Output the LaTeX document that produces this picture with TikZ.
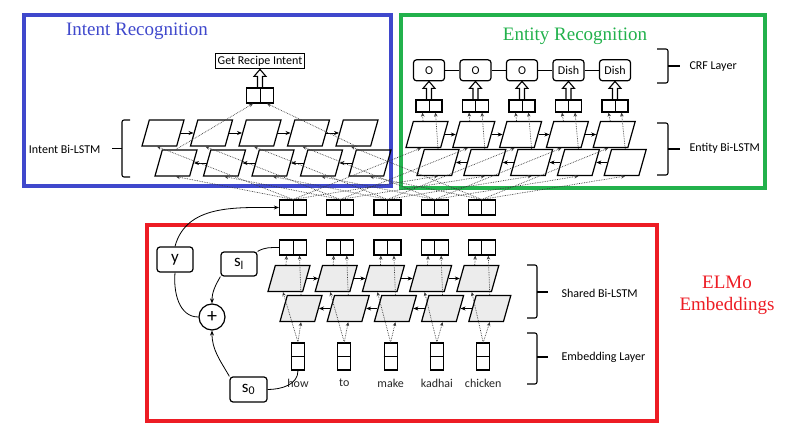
\documentclass[tikz,border=0pt]{standalone}
\usepackage{fontspec}
\setmainfont{Carlito}
\newfontfamily\titlefont{Liberation Serif}
\usepackage{tikz}
\usetikzlibrary{positioning,calc,shapes.geometric,arrows.meta}

\definecolor{intentblue}{RGB}{63,72,204}
\definecolor{entitygreen}{RGB}{34,177,76}
\definecolor{elmored}{RGB}{237,28,36}

% hollow arrow drawn from the top of one node to the bottom of another
\newcommand{\hollowup}[2]{%
  \draw[line width=1.1pt, line join=miter] let \p1=(#1.north), \p2=(#2.south) in
    (\x1-2.5pt,\y1) -- (\x1-2.5pt,\y2-7pt) -- (\x1-6pt,\y2-7pt) -- (\x1,\y2)
    -- (\x1+6pt,\y2-7pt) -- (\x1+2.5pt,\y2-7pt) -- (\x1+2.5pt,\y1);}

\begin{document}
\begin{tikzpicture}[x=1pt, y=-1pt, >={Stealth[length=5pt,width=4pt]},
    font=\fontsize{12}{14}\selectfont,
    cell/.style={draw, line width=1.2pt, trapezium, trapezium left angle=75,
      trapezium right angle=105, trapezium stretches=true,
      minimum width=42pt, minimum height=26pt, inner sep=1pt},
    pair/.style={draw, line width=1.2pt, minimum width=27pt, minimum height=15pt, inner sep=0pt},
    vpair/.style={draw, line width=1.2pt, minimum width=13pt, minimum height=27pt, inner sep=0pt},
    crf/.style={draw, line width=1.2pt, rounded corners=3pt, minimum width=31pt,
      minimum height=21pt, inner sep=2pt},
    wbox/.style={draw, line width=1.2pt, rounded corners=3pt, minimum width=36pt,
      minimum height=25pt, inner sep=1pt, font=\fontsize{17}{17}\selectfont},
    feed/.style={densely dotted, line width=0.7pt, gray!45!black, -{Stealth[length=4pt,width=3.5pt]}},
    frame/.style={line width=4pt},
    brace/.style={line width=1.1pt, rounded corners=2pt},
    title/.style={font=\titlefont\fontsize{19}{22}\selectfont}]
  \useasboundingbox (0,0) rectangle (793,436);

  % frames and titles
  \draw[frame, intentblue] (24,15) rectangle (391,186);
  \draw[frame, entitygreen] (401,15) rectangle (765,188);
  \draw[frame, elmored] (147,225) rectangle (657,421);
  \node[title, text=intentblue] (intenttitle) at (137,31) {Intent Recognition};
  \node[title, text=entitygreen] (entitytitle) at (575,36) {Entity Recognition};
  \node[title, text=elmored, align=center] (elmotitle) at (727,295) {ELMo\\Embeddings};

  % intent bi-lstm
  \foreach \i in {1,...,5} {
    \node[cell] (it\i) at ({163+48.5*(\i-1)},133) {};
    \node[cell] (ib\i) at ($(it\i)+(13,30)$) {};
  }
  \foreach \i [count=\j from 2] in {1,...,4} {
    \draw[->, thick] (it\i.east) -- (it\j.west);
    \draw[->, thick] (ib\j.west) -- (ib\i.east);
  }
  \node[pair] (ic) at (260,95.5) {};
  \draw[thick] (ic.north) -- (ic.south);
  \node[draw, line width=1.2pt, inner sep=2.5pt, above=18pt of ic] (recipe) {Get Recipe Intent};
  \hollowup{ic}{recipe}
  \draw[feed] (ib1.north) -- ($(ic.south)+(-7,0)$);
  \draw[feed] (it5.south) -- ($(ic.south)+(7,0)$);

  % entity bi-lstm and crf
  \foreach \i/\lab in {1/O,2/O,3/O,4/Dish,5/Dish} {
    \node[cell] (et\i) at ({427+46.8*(\i-1)},134.5) {};
    \node[cell] (eb\i) at ($(et\i)+(11,28)$) {};
    \node[pair, minimum width=26pt, minimum height=12pt] (ec\i) at ({429+46.5*(\i-1)},106) {};
    \draw[thick] (ec\i.north) -- (ec\i.south);
    \node[crf, above=18pt of ec\i] (crf\i) {\lab};
    \hollowup{ec\i}{crf\i}
    \draw[feed] ($(et\i.north)+(-4,0)$) -- ($(ec\i.south)+(-6.5,0)$);
    \draw[feed] (eb\i.north) -- ($(ec\i.south)+(6.5,0)$);
  }
  \foreach \i [count=\j from 2] in {1,...,4} {
    \draw[->, thick] (et\i.east) -- (et\j.west);
    \draw[->, thick] (eb\j.west) -- (eb\i.east);
    \draw[thick] (crf\i) -- (crf\j);
  }

  % shared bi-lstm, embeddings
  \foreach \i/\word in {1/how,2/to,3/make,4/kadhai,5/chicken} {
    \node[cell, fill=gray!15] (st\i) at ({289+47.2*(\i-1)},278.5) {};
    \node[cell, fill=gray!15] (sb\i) at ($(st\i)+(12,30)$) {};
    \node[pair] (tc\i) at ({293+47.2*(\i-1)},247.5) {};
    \draw[thick] (tc\i.north) -- (tc\i.south);
    \node[pair] (mc\i) at ({293+47.2*(\i-1)},207.5) {};
    \draw[thick] (mc\i.north) -- (mc\i.south);
    \node[vpair] (emb\i) at ({298+46.3*(\i-1)},356.5) {};
    \draw[thick] (emb\i.west) -- (emb\i.east);
    \node[below=5pt of emb\i, text=gray!30!black] (w\i) {\word};
    \draw[feed] (emb\i.north) -- ($(st\i.south)+(-6,0)$);
    \draw[feed] (emb\i.north) -- (sb\i.south);
    \draw[feed] ($(st\i.north)+(-3,0)$) -- ($(tc\i.south)+(-6.5,0)$);
    \draw[feed] (sb\i.north) -- ($(tc\i.south)+(6.5,0)$);
    % into both task layers
    \draw[feed] (mc\i.north) -- ($(it\i.south)+(-6,0)$);
    \draw[feed] (mc\i.north) -- (ib\i.south);
    \draw[feed] (mc\i.north) -- ($(et\i.south)+(-6,0)$);
    \draw[feed] (mc\i.north) -- (eb\i.south);
  }
  \foreach \i [count=\j from 2] in {1,...,4} {
    \draw[->, thick] (st\i.east) -- (st\j.west);
    \draw[->, thick] (sb\j.west) -- (sb\i.east);
  }

  % weighted sum
  \node[wbox] (gamma) at (175,259.5) {y};
  \node[wbox, minimum height=24pt] (s1) at (239,264) {s\textsubscript{l}};
  \node[wbox, minimum width=37pt] (s0) at (248.5,389.5) {s\textsubscript{0}};
  \node[circle, draw, line width=1.2pt, minimum size=26pt, inner sep=0pt,
    font=\fontsize{20}{20}\selectfont] (sum) at (212,317) {+};
  \draw[->, thick] (s1.south west) to[out=-120, in=90] (sum.north);
  \draw[->, thick] (s0.north west) to[out=120, in=-90] (sum.south);
  \draw[thick] (sum.west) to[out=180, in=-95] (gamma.south);
  \draw[->, thick] (gamma.north) to[out=75, in=180] (mc1.west);
  \draw[thick] (s1.north east) to[out=30, in=180] (tc1.west);
  \draw[thick] (s0.east) to[out=0, in=-90] (emb1.south);

  % braces and layer names
  \draw[brace] (130,120) -- (122,120) -- (122,177) -- (130,177);
  \draw[brace] (122,148.5) -- (112,148.5);
  \node[anchor=east] (intentlbl) at (104,149) {Intent Bi-LSTM};
  \draw[brace] (657,49) -- (668,49) -- (668,83) -- (657,83);
  \draw[brace] (668,66) -- (680,66);
  \node[anchor=west] (crflbl) at (686,67) {CRF Layer};
  \draw[brace] (657,123) -- (668,123) -- (668,175) -- (657,175);
  \draw[brace] (668,149) -- (680,149);
  \node[anchor=west] (entitylbl) at (686,148) {Entity Bi-LSTM};
  \draw[brace] (527,265) -- (537,265) -- (537,318) -- (527,318);
  \draw[brace] (537,292) -- (548,292);
  \node[anchor=west] (sharedlbl) at (558,293) {Shared Bi-LSTM};
  \draw[brace] (527,333) -- (537,333) -- (537,384) -- (527,384);
  \draw[brace] (537,357) -- (548,357);
  \node[anchor=west] (embedlbl) at (558,357) {Embedding Layer};
\end{tikzpicture}
\end{document}
